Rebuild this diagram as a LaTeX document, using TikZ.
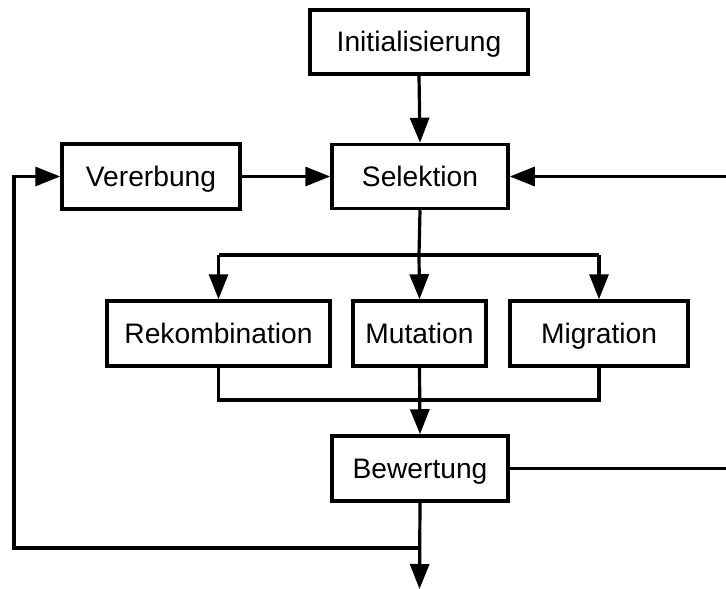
\documentclass[tikz,border=0pt]{standalone}
\usepackage{fontspec}
\setmainfont{Liberation Sans}
\usetikzlibrary{arrows.meta}
\begin{document}
\begin{tikzpicture}[x=1pt,y=-1pt,
  stepbox/.style={draw, line width=3.5pt, fill=white, inner sep=0pt,
    minimum height=64pt, text height=19.5pt, text depth=0pt,
    font=\fontsize{28.2}{32}\selectfont},
  link/.style={line width=3.2pt},
  flow/.style={line width=3.2pt, -{Triangle[length=25pt,width=19pt]}}]
\useasboundingbox (0,0) rectangle (726,589);

% process steps
\node[stepbox, minimum width=218pt] (init) at (419,42) {Initialisierung};
\node[stepbox, minimum width=176pt] (sel)  at (420,176.5) {Selektion};
\node[stepbox, minimum width=178pt, minimum height=65pt] (ver) at (151,176.5) {Vererbung};
\node[stepbox, minimum width=223pt, minimum height=65pt] (rek) at (218.5,333.5) {Rekombination};
\node[stepbox, minimum width=133pt, minimum height=65pt] (mut) at (419.5,333.5) {Mutation};
\node[stepbox, minimum width=178pt, minimum height=65pt] (mig) at (599,333.5) {Migration};
\node[stepbox, minimum width=176pt, minimum height=65pt] (bew) at (420,468.5) {Bewertung};

% junction points
\coordinate (split)  at (419,255);
\coordinate (splitL) at (218.5,255);
\coordinate (splitR) at (599,255);
\coordinate (merge)  at (419.5,400);
\coordinate (rin)    at (726,176.5);
\coordinate (rout)   at (726,468.5);
\coordinate (loop)   at (419.5,548);
\coordinate (loopL)  at (14,548);
\coordinate (exit)   at (419.5,589);

% connectors
\draw[flow] (init.south) -- (sel.north);
\draw[flow] (ver.east) -- (sel.west);
\draw[flow] (rin) -- (sel.east);

\draw[link] (sel.south) -- (split);
\draw[link] (splitL) -- (splitR);
\draw[flow] (splitL) -- (rek.north);
\draw[flow] (split) -- (mut.north);
\draw[flow] (splitR) -- (mig.north);

\draw[link] (rek.south) |- (merge) -| (mig.south);
\draw[flow] (mut.south) -- (bew.north);

\draw[link] (bew.east) -- (rout);
\draw[flow] (bew.south) -- (exit);
\draw[flow] (loop) -- (loopL) |- (ver.west);
\end{tikzpicture}
\end{document}
